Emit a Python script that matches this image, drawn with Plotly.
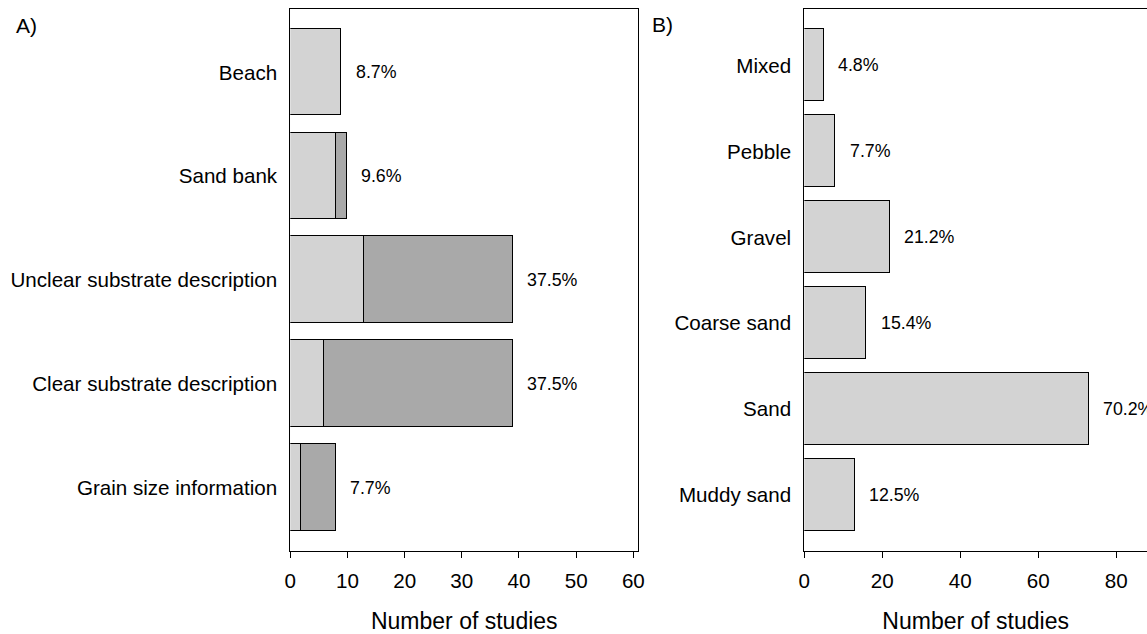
import plotly.graph_objects as go

# ---------------- data ----------------
A_categories = ["Grain size information", "Clear substrate description",
                "Unclear substrate description", "Sand bank", "Beach"]
A_light = [2, 6, 13, 8, 9]
A_dark = [6, 33, 26, 2, None]
A_pct = ["7.7%", "37.5%", "37.5%", "9.6%", "8.7%"]

B_categories = ["Muddy sand", "Sand", "Coarse sand", "Gravel", "Pebble", "Mixed"]
B_values = [13, 73, 16, 22, 8, 5]
B_pct = ["12.5%", "70.2%", "15.4%", "21.2%", "7.7%", "4.8%"]

A_ticks = [0, 10, 20, 30, 40, 50, 60]
B_ticks = [0, 20, 40, 60, 80]
x_title = "Number of studies"

# ---------------- style ----------------
W, H = 1147, 634
FONT = "Liberation Sans, Arial, sans-serif"
LIGHT = "#D3D3D3"
DARK = "#A9A9A9"

def pos(n):
    return [0.7 + 1.2 * i for i in range(n)]

A_y = pos(len(A_categories))
B_y = pos(len(B_categories))
A_tot = [l + (d or 0) for l, d in zip(A_light, A_dark)]

fig = go.Figure()
line = dict(color="black", width=1)
fig.add_trace(go.Bar(x=A_light, y=A_y, orientation="h", width=1,
                     marker=dict(color=LIGHT, line=line),
                     xaxis="x", yaxis="y", showlegend=False, hoverinfo="skip"))
fig.add_trace(go.Bar(x=A_dark, y=A_y, orientation="h", width=1,
                     marker=dict(color=DARK, line=line),
                     xaxis="x", yaxis="y", showlegend=False, hoverinfo="skip"))
fig.add_trace(go.Bar(x=B_values, y=B_y, orientation="h", width=1,
                     marker=dict(color=LIGHT, line=line),
                     xaxis="x2", yaxis="y2", showlegend=False, hoverinfo="skip"))

pctfont = dict(family=FONT, size=17.8, color="black")
ann = []
for xv, yv, t in zip(A_tot, A_y, A_pct):
    ann.append(dict(x=xv, y=yv, xref="x", yref="y", text=t, showarrow=False,
                    xanchor="left", yanchor="middle", xshift=12, font=pctfont))
for xv, yv, t in zip(B_values, B_y, B_pct):
    ann.append(dict(x=xv, y=yv, xref="x2", yref="y2", text=t, showarrow=False,
                    xanchor="left", yanchor="middle", xshift=12, font=pctfont))
ann.append(dict(x=14 / W, y=1 - 26 / H, xref="paper", yref="paper", text="A)",
                showarrow=False, xanchor="left", yanchor="middle",
                font=dict(family=FONT, size=21, color="black")))
ann.append(dict(x=650 / W, y=1 - 25 / H, xref="paper", yref="paper", text="B)",
                showarrow=False, xanchor="left", yanchor="middle",
                font=dict(family=FONT, size=21, color="black")))

ydom = [(H - 551) / H, (H - 9.3) / H]
tickfont = dict(family=FONT, size=20.6, color="black")
titlefont = dict(family=FONT, size=23, color="black")

xcommon = dict(ticks="outside", ticklen=6, tickwidth=1, tickcolor="black",
               showgrid=False, zeroline=False, showline=True, linecolor="black",
               linewidth=1, mirror=True, tickfont=tickfont, automargin=False,
               ticklabelstandoff=5,
               title=dict(text=x_title, font=titlefont, standoff=22))
ycommon = dict(ticks="", showgrid=False, zeroline=False, showline=True,
               linecolor="black", linewidth=1, tickfont=tickfont,
               ticklabelstandoff=8, automargin=False)

fig.update_layout(
    width=W, height=H, autosize=False,
    margin=dict(l=0, r=0, t=0, b=0, pad=0),
    paper_bgcolor="white", plot_bgcolor="white",
    barmode="stack", bargap=0,
    font=dict(family=FONT, color="black"),
    annotations=ann,
    xaxis=dict(domain=[290.3 / W, 638.3 / W], range=[0, 60.87],
               tickvals=A_ticks, anchor="y", **xcommon),
    yaxis=dict(domain=ydom, range=[-0.031, 6.228], tickvals=A_y,
               ticktext=A_categories, mirror=True, anchor="x", **ycommon),
    xaxis2=dict(domain=[804.3 / W, 1.0], range=[0, (W - 804.3) / 3.9],
                tickvals=B_ticks, anchor="y2", **xcommon),
    yaxis2=dict(domain=ydom, range=[-0.079, 7.483], tickvals=B_y,
                ticktext=B_categories, mirror=False, anchor="x2", **ycommon),
)

fig.write_html("out.html")
